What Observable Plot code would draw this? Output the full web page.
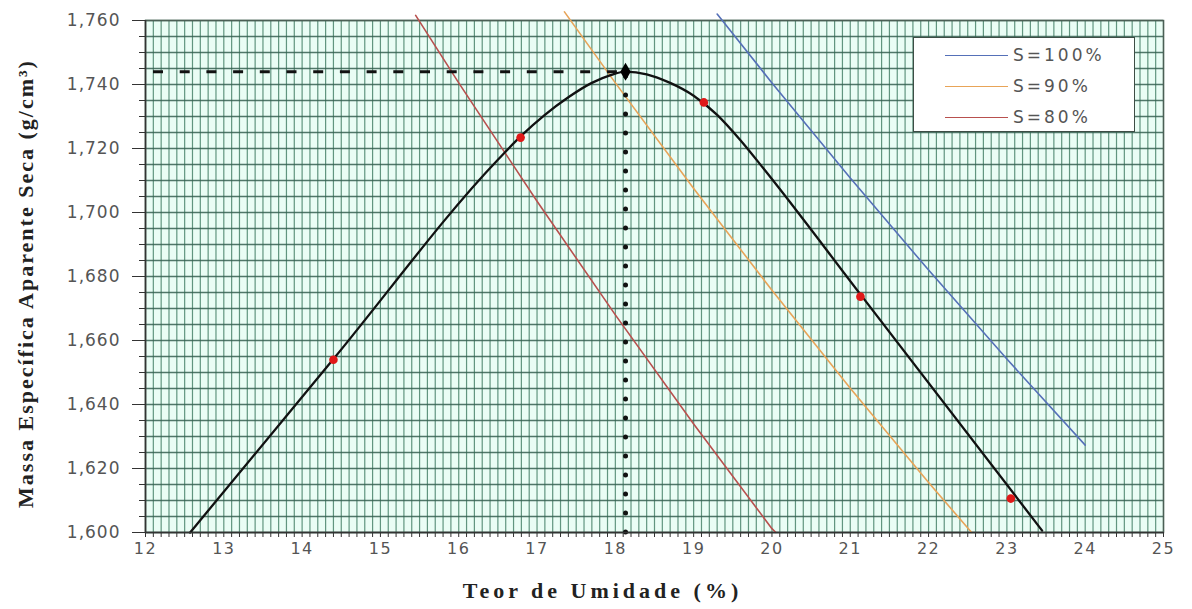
<!DOCTYPE html>
<html><head><meta charset="utf-8">
<script src="https://cdn.jsdelivr.net/npm/d3@7"></script>
<script src="https://cdn.jsdelivr.net/npm/@observablehq/plot@0.6"></script>
<style>
body{margin:0;background:#fff}
#wrap{position:relative;width:1192px;height:609px}
#legend{position:absolute;left:913px;top:37px;width:222px;height:95px;background:#fff;border:1.5px solid #3d4d45;box-sizing:border-box}
#legend .row{position:absolute;left:31px;height:20px;display:flex;align-items:center;font-family:"DejaVu Sans",sans-serif;font-size:17px;color:#555;letter-spacing:3px;white-space:nowrap}
#legend .sw{width:63px;height:0;border-top:1.6px solid;margin-right:5px}
</style>
</head><body><div id="wrap"></div>
<script>
// Axis ticks and titles
const xTicks = [12,13,14,15,16,17,18,19,20,21,22,23,24,25];
const yTicks = [1.600,1.620,1.640,1.660,1.680,1.700,1.720,1.740,1.760];
const xTitle = "Teor de Umidade (%)";
const yTitle = "Massa Específica Aparente Seca (g/cm³)";
// Compaction curve
const curveW   = [12.57,14.4,16.5,16.8,17.1,17.4,17.7,17.95,18.13,18.4,18.7,19.0,19.3,19.6,19.9,21.13,23.45];
const curveRho = [1.600,1.6542,1.7165,1.7240,1.7305,1.7360,1.7405,1.7430,1.744,1.7432,1.7405,1.7365,1.7305,1.7225,1.7135,1.6744,1.6006];
// Test points
const pointW   = [14.4,16.79,19.13,21.13,23.05];
const pointRho = [1.654,1.7234,1.7344,1.6737,1.6106];
// Optimum
const optW = [18.13];
const optRho = [1.744];
// Saturation lines
const s100W   = [19.3,20,21,22,23,24.0];
const s100Rho = [1.762,1.7405,1.7108,1.682,1.6542,1.6273];
const s90W    = [17.35,18,19,20,21,22,22.55];
const s90Rho  = [1.7627,1.7405,1.7075,1.6757,1.6451,1.6156,1.600];
const s80W    = [15.45,16,17,18,19,20,20.05];
const s80Rho  = [1.7616,1.7405,1.7035,1.668,1.6339,1.6012,1.600];
const seriesNames = ["S=100%","S=90%","S=80%"];
const seriesColors = ["#5570b8","#e8a458","#b8504e"];

const vGrid = d3.range(120, 251).map(i => i / 10);
const hGrid = d3.range(0, 33).map(i => +(1.6 + i * 0.005).toFixed(3));

const toPts = (W, R) => W.map((w, i) => ({w, r: R[i]}));
const curve = toPts(curveW, curveRho);
const pts = toPts(pointW, pointRho);
const opt = toPts(optW, optRho);
const sLines = [toPts(s100W, s100Rho), toPts(s90W, s90Rho), toPts(s80W, s80Rho)];
const fmt = d => d.toFixed(3).replace(".", ",");

const plot = Plot.plot({
  width: 1192, height: 609,
  marginLeft: 145, marginRight: 29, marginTop: 20, marginBottom: 77,
  x: {domain: [12, 25], axis: null},
  y: {domain: [1.6, 1.76], axis: null},
  style: {fontFamily: "DejaVu Sans, sans-serif", color: "#555", background: "transparent"},
  marks: [
    Plot.frame({fill: "#eafdf5", stroke: null}),
    Plot.ruleX(vGrid, {stroke: "#3f7a62", strokeWidth: 1.2, strokeOpacity: 0.8}),
    Plot.ruleY(hGrid, {stroke: "#355f50", strokeWidth: 1.3, strokeOpacity: 0.85}),
    Plot.frame({stroke: "#4b5f55", strokeWidth: 1.5}),
    ...sLines.map((d, i) => Plot.line(d, {x: "w", y: "r", stroke: seriesColors[i], strokeWidth: 1.6})),
    Plot.ruleY(opt, {y: "r", x1: 12, x2: "w", stroke: "#111", strokeWidth: 3, strokeDasharray: "10,16.7", strokeDashoffset: 18.7}),
    Plot.ruleX(opt, {x: "w", y1: 1.6, y2: "r", stroke: "#111", strokeWidth: 5, strokeDasharray: "0,19", strokeLinecap: "round"}),
    Plot.line(curve, {x: "w", y: "r", stroke: "#111", strokeWidth: 2.3, curve: "monotone-x"}),
    Plot.dot(pts, {x: "w", y: "r", r: 4.3, fill: "#e01818"}),
    Plot.dot(opt, {x: "w", y: "r", r: 5.5, symbol: "diamond", fill: "#000"}),
    Plot.axisX({ticks: vGrid, tickSize: 5, tickFormat: () => "", stroke: "#333", label: null}),
    Plot.axisX({ticks: xTicks, tickSize: 0, tickPadding: 10, fontSize: 16, fill: "#555", label: null, ariaLabel: "xlab"}),
    Plot.axisY({ticks: hGrid, tickSize: 6, tickFormat: () => "", stroke: "#333", label: null}),
    Plot.axisY({ticks: yTicks, tickSize: 13, tickPadding: 12, tickFormat: fmt, fontSize: 17, fill: "#555", label: null, stroke: "#333", ariaLabel: "ylab"}),
    Plot.ruleX([12], {stroke: "#333", strokeWidth: 1.5}),
    Plot.ruleY([1.6], {stroke: "#333", strokeWidth: 1.5}),
    Plot.text([xTitle], {frameAnchor: "bottom", dx: -52, dy: 65, fontFamily: "Liberation Serif, serif", fontWeight: "bold", fontSize: 22, fill: "#222"}),
    Plot.text([yTitle], {frameAnchor: "left", textAnchor: "middle", dx: -120, dy: 7, rotate: -90, fontFamily: "Liberation Serif, serif", fontWeight: "bold", fontSize: 22, fill: "#222"})
  ]
});
d3.select(plot).selectAll("text").each(function() {
  const t = this.textContent;
  let g = this, lab = "";
  while (g && g !== plot.parentNode) { const a = g.getAttribute && g.getAttribute("aria-label"); if (a) lab += "|" + a; g = g.parentNode; }
  if (t === xTitle) this.style.letterSpacing = "4px";
  else if (t === yTitle) this.style.letterSpacing = "2px";
  else if (lab.includes("xlab")) this.style.letterSpacing = "1.5px";
  else if (lab.includes("ylab")) this.style.letterSpacing = "1px";
});
const wrap = document.getElementById("wrap");
wrap.appendChild(plot);

const legend = document.createElement("div");
legend.id = "legend";
seriesNames.forEach((name, i) => {
  const row = document.createElement("div");
  row.className = "row";
  row.style.top = (7 + i * 31) + "px";
  const sw = document.createElement("span");
  sw.className = "sw";
  sw.style.borderTopColor = seriesColors[i];
  row.appendChild(sw);
  row.appendChild(document.createTextNode(name));
  legend.appendChild(row);
});
wrap.appendChild(legend);
</script>
</body></html>
